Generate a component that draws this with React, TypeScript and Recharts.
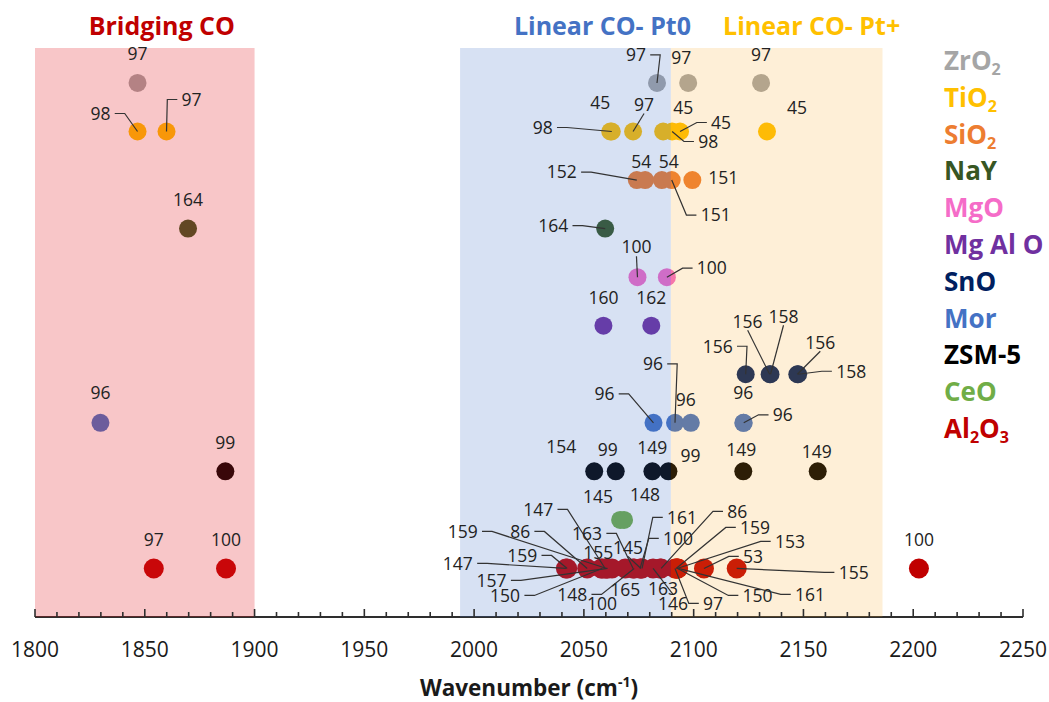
import React from "react";
import { ScatterChart, Scatter, XAxis, YAxis, ReferenceArea, LabelList } from "recharts";

// supports, top row to bottom row
const supports = ["ZrO2", "TiO2", "SiO2", "NaY", "MgO", "Mg Al O", "SnO", "Mor", "ZSM-5", "CeO", "Al2O3"];

// CO band positions (cm-1) and the reference number reporting each band
const zro2Wn = [1846.7, 2083.3, 2097.5, 2130.7];
const zro2Ref = [97, 97, 97, 97];

const tio2Wn = [1846.7, 1859.9, 2062.7, 2062.0, 2072.4, 2086.1, 2090.2, 2093.8, 2133.4];
const tio2Ref = [98, 97, 98, 45, 97, 45, 98, 45, 45];

const sio2Wn = [2074.1, 2077.9, 2085.5, 2090.0, 2099.4];
const sio2Ref = [152, 54, 54, 151, 151];

const nayWn = [1869.7, 2059.7];
const nayRef = [164, 164];

const mgoWn = [2074.4, 2087.8];
const mgoRef = [100, 100];

const mgAlOWn = [2058.9, 2080.7];
const mgAlORef = [160, 162];

const snoWn = [2123.7, 2134.6, 2135.0, 2147.2, 2147.6];
const snoRef = [156, 156, 158, 156, 158];

const morWn = [1829.8, 2081.7, 2091.5, 2098.7, 2122.6, 2122.8];
const morRef = [96, 96, 96, 96, 96, 96];

const zsmWn = [1886.7, 2054.7, 2064.5, 2081.2, 2088.5, 2122.6, 2156.5];
const zsmRef = [99, 154, 99, 149, 99, 149, 149];

const ceoWn = [2066.5, 2068.3];
const ceoRef = [145, 148];

const al2o3Wn = [
  1854.1, 1887.0, 2041.8, 2042.4, 2051.5, 2057.9, 2058.3, 2059.7, 2060.4, 2060.8, 2062.8, 2068.8, 2072.4, 2072.9,
  2075.6, 2076.0, 2076.5, 2081.5, 2084.7, 2085.2, 2091.5, 2092.0, 2092.4, 2092.7, 2092.9, 2104.7, 2119.6, 2202.6,
];
const al2o3Ref = [
  97, 100, 147, 159, 86, 155, 150, 147, 159, 157, 100, 165, 163, 148,
  100, 145, 161, 146, 163, 86, 97, 159, 153, 150, 161, 53, 155, 100,
];

// label placement: [dx, dy] from the marker centre in px, third entry 1 = leader line
const zro2Tags = [[0, -29], [-21, -28, 1], [-7, -25], [0, -28]];
const tio2Tags = [[-37, -18, 1], [25, -32, 1], [-69, -4, 1], [-10, -29], [11, -27, 1], [20, -24], [36, 10, 1], [41, -9, 1], [30, -24]];
const sio2Tags = [[-75, -8, 1], [-4, -18], [7, -18], [44, 35, 1], [31, -2]];
const nayTags = [[0, -29], [-52, -3, 1]];
const mgoTags = [[-1, -30, 1], [45, -9, 1]];
const mgAlOTags = [[0, -28], [0, -28]];
const snoTags = [[-28, -28, 1], [-22, -53, 1], [13, -58, 1], [23, -32, 1], [53, -3, 1]];
const morTags = [[0, -30], [-49, -29, 1], [-22, -59, 1], [-5, -23], [0, -30], [39, -8, 1]];
const zsmTags = [[0, -29], [-33, -25], [-8, -22], [0, -24], [22, -16], [-2, -22], [-1, -20]];
const ceoTags = [[-22, -23], [21, -25]];
const al2o3Tags = [
  [0, -29], [0, -29], [-108, -5, 1], [-45, -13, 1], [-67, -37, 1], [-3, -16], [-97, 27, 1], [-67, -59, 1],
  [-144, -37, 1], [-116, 12, 1], [-10, 35], [0, 21], [-46, -35, 1], [-62, 26, 1], [38, -30, 1], [-13, -21, 1],
  [40, -51, 1], [20, 35, 1], [3, 20], [76, -57, 1], [38, 35, 1], [79, -41, 1], [113, -27, 1], [80, 27, 1],
  [132, 26, 1], [49, -12, 1], [117, 4, 1], [0, -29],
];

const supportColors = ["#a5a5a5", "#ffc000", "#ed7d31", "#375623", "#f56cc8", "#7030a0", "#002060", "#4472c4", "#000000", "#70ad47", "#c00000"];

const majorTicks = [1800, 1850, 1900, 1950, 2000, 2050, 2100, 2150, 2200, 2250];
const allTicks: number[] = [];
for (let t = 1800; t <= 2250; t += 10) allTicks.push(t);

const yTop = 11.72;

const table = [
  [zro2Wn, zro2Ref, zro2Tags],
  [tio2Wn, tio2Ref, tio2Tags],
  [sio2Wn, sio2Ref, sio2Tags],
  [nayWn, nayRef, nayTags],
  [mgoWn, mgoRef, mgoTags],
  [mgAlOWn, mgAlORef, mgAlOTags],
  [snoWn, snoRef, snoTags],
  [morWn, morRef, morTags],
  [zsmWn, zsmRef, zsmTags],
  [ceoWn, ceoRef, ceoTags],
  [al2o3Wn, al2o3Ref, al2o3Tags],
];

const series = table.map(([wn, refs, tags], k) => ({
  name: supports[k],
  color: supportColors[k],
  refs: refs as number[],
  tags: tags as number[][],
  data: (wn as number[]).map((w, i) => ({ wn: w, row: supports.length - k, i })),
}));

const FONT = "'Open Sans', sans-serif";

// digits following a letter are drawn as subscripts (ZrO2, Al2O3, not ZSM-5)
function Formula({ text }: { text: string }) {
  const parts: React.ReactNode[] = [];
  for (let k = 0; k < text.length; k++) {
    const ch = text[k];
    const sub = /[0-9]/.test(ch) && k > 0 && /[A-Za-z]/.test(text[k - 1]);
    parts.push(
      sub ? (
        <span key={k} style={{ fontSize: "0.62em", position: "relative", top: "0.32em" }}>{ch}</span>
      ) : (
        <React.Fragment key={k}>{ch}</React.Fragment>
      )
    );
  }
  return <>{parts}</>;
}

function SupportKey() {
  return (
    <div style={{ position: "absolute", left: 944, top: 42, fontFamily: FONT, fontWeight: 700, fontSize: 26 }}>
      {series.map((s) => (
        <div key={s.name} style={{ height: 36.8, lineHeight: "36.8px", color: s.color, whiteSpace: "nowrap" }}>
          <Formula text={s.name} />
        </div>
      ))}
    </div>
  );
}

const makeTagRenderer = (refs: number[], tags: number[][]) => (props: any) => {
  const vb = props.viewBox ?? props;
  const cx = vb.x + (vb.width ?? 0) / 2;
  const cy = vb.y + (vb.height ?? 0) / 2;
  const i = props.value;
  if (tags[i] == null) return null;
  const text = String(refs[i]);
  const [dx, dy, lead] = tags[i];
  const lx = cx + dx;
  const ly = cy + dy;
  const halfW = text.length * 5.1 + 1;
  let d = "";
  if (lead) {
    if (Math.abs(dx) > halfW + 8) {
      const sx = lx + (dx < 0 ? halfW + 3 : -halfW - 3);
      const ex = sx + (dx < 0 ? 10 : -10);
      d = `M${sx},${ly}L${ex},${ly}L${cx},${cy}`;
    } else {
      const sy = ly + (dy < 0 ? 9 : -9);
      d = `M${lx},${sy}L${cx},${cy}`;
    }
  }
  return (
    <g>
      {d && <path d={d} fill="none" stroke="#333333" strokeWidth={1.2} />}
      <text x={lx} y={ly} dy="0.36em" textAnchor="middle" fontSize={17.5} fontFamily={FONT} fill="#222222">
        {text}
      </text>
    </g>
  );
};

const AxisTick = (props: any) => {
  const { x, y, payload } = props;
  const v = payload.value;
  const major = majorTicks.includes(v);
  return (
    <g>
      <line x1={x} x2={x} y1={y} y2={y - (major ? 8 : 5)} stroke="#2e2e2e" strokeWidth={1.6} />
      {major && (
        <text x={x} y={y + 40} textAnchor="middle" fontSize={21} fontFamily={FONT} fill="#1a1a1a">
          {v}
        </text>
      )}
    </g>
  );
};

const AxisTitle = (props: any) => {
  const vb = props.viewBox;
  return (
    <text x={vb.x + vb.width / 2} y={vb.y + 79} textAnchor="middle" fontSize={22.5} fontWeight={700} fontFamily={FONT} fill="#1a1a1a">
      Wavenumber (cm
      <tspan dy={-9} fontSize={14}>-1</tspan>
      <tspan dy={9}>)</tspan>
    </text>
  );
};

const bandTitle = (text: string, color: string, shift: number) => (props: any) => {
  const vb = props.viewBox;
  return (
    <text x={vb.x + vb.width / 2 + shift} y={vb.y - 13} textAnchor="middle" fontSize={25} fontWeight={700} fontFamily={FONT} fill={color}>
      {text}
    </text>
  );
};

export default function App() {
  return (
    <div style={{ position: "absolute", left: 0, top: 0, width: 1049, height: 702, background: "#ffffff", fontFamily: FONT }}>
      <ScatterChart width={1049} height={702} margin={{ top: 48, right: 26, bottom: 0, left: 35 }}>
        <XAxis
          type="number"
          dataKey="wn"
          domain={[1800, 2250]}
          ticks={allTicks}
          interval={0}
          tickSize={0}
          tickMargin={0}
          tickLine={false}
          tick={<AxisTick />}
          axisLine={{ stroke: "#2e2e2e", strokeWidth: 2 }}
          height={85}
          label={{ content: AxisTitle }}
        />
        <YAxis type="number" dataKey="row" domain={[0, yTop]} hide />
        {series.map((s) => (
          <Scatter
            key={s.name}
            name={s.name}
            data={s.data}
            fill={s.color}
            isAnimationActive={false}
            shape={(p: any) => <circle cx={p.cx} cy={p.cy} r={s.name === "Al2O3" ? 10 : 9} fill={s.color} />}
          >
            <LabelList dataKey="i" content={makeTagRenderer(s.refs, s.tags)} />
          </Scatter>
        ))}
        <ReferenceArea
          x1={1800}
          x2={1900}
          fill="#e31b23"
          fillOpacity={0.25}
          stroke="none"
          zIndex={650}
          label={{ content: bandTitle("Bridging CO", "#c00000", 17) }}
        />
        <ReferenceArea
          x1={1993.6}
          x2={2089.6}
          fill="#4472c4"
          fillOpacity={0.21}
          stroke="none"
          zIndex={650}
          label={{ content: bandTitle("Linear CO- Pt0", "#4472c4", 37) }}
        />
        <ReferenceArea
          x1={2089.6}
          x2={2186}
          fill="#f7a823"
          fillOpacity={0.18}
          stroke="none"
          zIndex={650}
          label={{ content: bandTitle("Linear CO- Pt+", "#ffc000", 35) }}
        />
      </ScatterChart>
      <SupportKey />
    </div>
  );
}
